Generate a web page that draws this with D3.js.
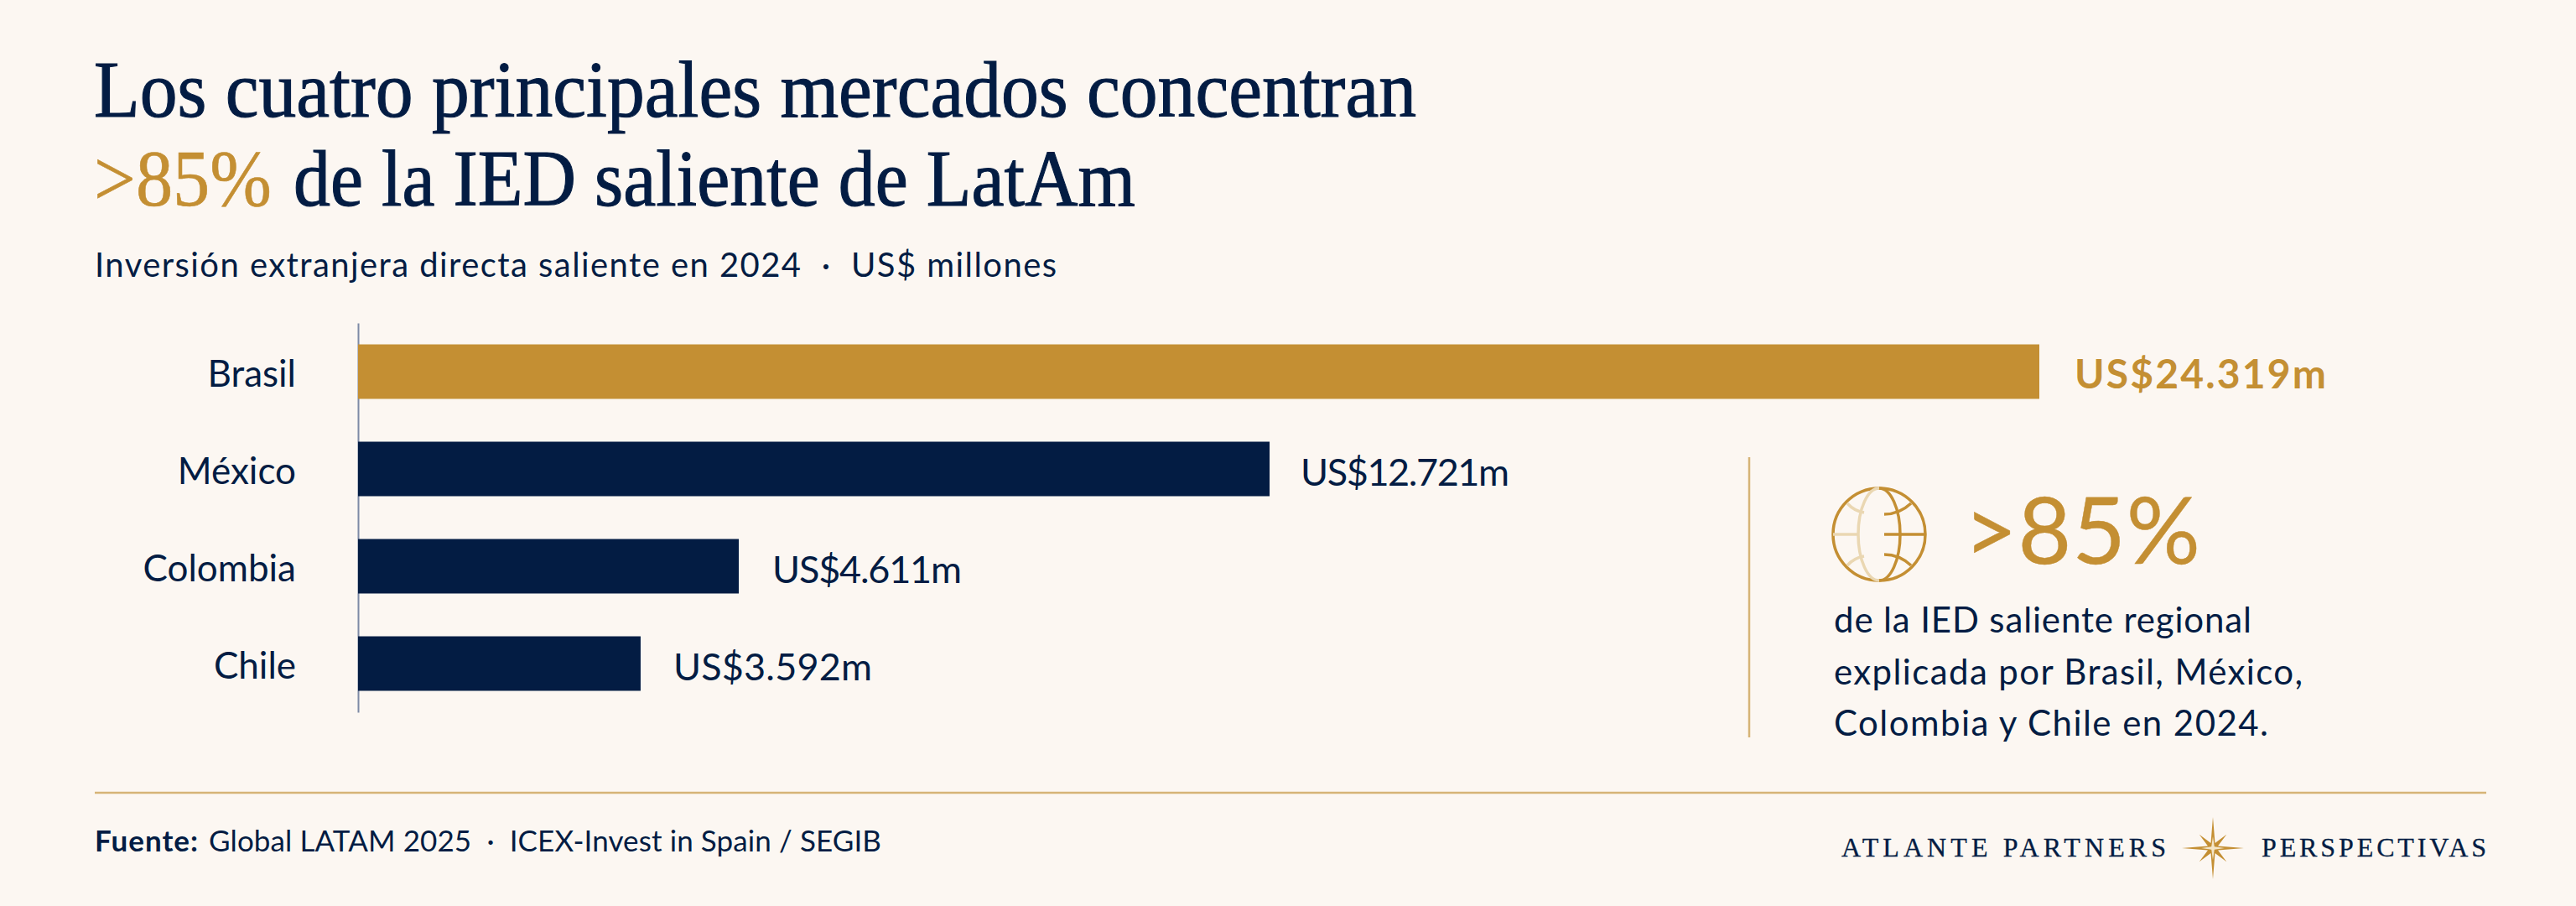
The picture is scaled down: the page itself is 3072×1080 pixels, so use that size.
<!DOCTYPE html>
<html lang="es">
<head>
<meta charset="utf-8">
<title>IED saliente de LatAm</title>
<script src="https://cdn.jsdelivr.net/npm/d3@7"></script>
<style>
  html, body { margin: 0; padding: 0; background: #fcf7f2; }
  svg { display: block; }
  text { font-family: Lato, "Noto Sans", sans-serif; fill: #031c43; }
  .serif { font-family: "Liberation Serif", serif; }
</style>
</head>
<body>
<script>
const countries = ["Brasil", "México", "Colombia", "Chile"];
// bar lengths as drawn in the picture, on the Brasil bar's scale. The drawn bars
// are not quite proportional to the printed amounts, so those are kept apart.
const barLengths = [24319, 13185, 5507, 4087];
const valueLabels = ["US$24.319m", "US$12.721m", "US$4.611m", "US$3.592m"];
const labelWidths = [300, 249, 226, 237];
const labelGaps = [42, 37, 40, 39];
const panelLines = ["de la IED saliente regional", "explicada por Brasil, México,", "Colombia y Chile en 2024."];
const panelWidths = [498, 559, 518];

const navy = "#031c43", gold = "#c48f33", paleGold = "#d6b477";
const width = 3072, height = 1080;
const margin = {left: 113, right: 107};

const svg = d3.select("body").append("svg")
    .attr("width", width)
    .attr("height", height)
    .attr("viewBox", [0, 0, width, height]);

svg.append("rect")
    .attr("width", width)
    .attr("height", height)
    .attr("fill", "#fcf7f2");

const label = (g, txt, x, y, size, w) => g.append("text")
    .attr("x", x)
    .attr("y", y)
    .attr("font-size", size)
    .attr("textLength", w)
    .attr("lengthAdjust", "spacing")
    .text(txt);

// heading
label(svg, "Los cuatro principales mercados concentran", 112, 139, 96, 1577)
    .attr("class", "serif").attr("lengthAdjust", "spacingAndGlyphs").attr("stroke", navy).attr("stroke-width", 1.1);
label(svg, ">85%", 112, 245, 96, 212)
    .attr("class", "serif").attr("lengthAdjust", "spacingAndGlyphs").attr("stroke", gold).attr("stroke-width", 0.6).style("fill", gold);
label(svg, "de la IED saliente de LatAm", 350, 245, 96, 1004)
    .attr("class", "serif").attr("lengthAdjust", "spacingAndGlyphs").attr("stroke", navy).attr("stroke-width", 1.1);
label(svg, "Inversión extranjera directa saliente en 2024  ·  US$ millones", 113, 330, 40, 1147)
    .attr("xml:space", "preserve");

// bars
const x = d3.scaleLinear().domain([0, d3.max(barLengths)]).range([427, 2432]);
const y = d3.scaleBand().domain(countries).range([385, 849]).paddingInner(0.44).paddingOuter(0.22);

const axis = svg.append("g")
    .attr("transform", `translate(${x(0)},0)`)
    .call(d3.axisLeft(y).tickSize(0).tickPadding(74));
axis.select(".domain").attr("stroke", "#7d8aa5").attr("stroke-width", 2);
axis.selectAll("text")
    .attr("font-size", 44)
    .attr("dy", "0.41em")
    .style("font-family", "Lato, sans-serif")
    .style("fill", navy);

svg.append("g")
  .selectAll("rect")
  .data(countries)
  .join("rect")
    .attr("x", x(0))
    .attr("y", d => y(d))
    .attr("width", (d, i) => x(barLengths[i]) - x(0))
    .attr("height", y.bandwidth())
    .attr("fill", (d, i) => i == 0 ? gold : navy);

svg.append("g")
  .selectAll("text")
  .data(countries)
  .join("text")
    .attr("x", (d, i) => x(barLengths[i]) + labelGaps[i])
    .attr("y", d => y(d) + y.bandwidth() / 2 + 20)
    .attr("font-size", (d, i) => i == 0 ? 48 : 45)
    .attr("font-weight", (d, i) => i == 0 ? 700 : 400)
    .attr("textLength", (d, i) => labelWidths[i])
    .style("fill", (d, i) => i == 0 ? gold : navy)
    .text((d, i) => valueLabels[i]);

// side panel
svg.append("line")
    .attr("x1", 2086).attr("x2", 2086)
    .attr("y1", 545).attr("y2", 879)
    .attr("stroke", paleGold)
    .attr("stroke-width", 2.5);

const globe = svg.append("g")
    .attr("transform", "translate(2241,637)")
    .attr("fill", "none")
    .attr("stroke", gold)
    .attr("stroke-width", 3.5);
globe.append("circle").attr("r", 55);
globe.append("path").attr("d", "M0,-55A25,55 0 0 1 0,55");
globe.append("path").attr("d", "M6,0H55M6,-24Q24,-24 38,-37M6,24Q24,24 38,37");
globe.append("path").attr("d", "M0,-55A25,55 0 0 0 0,55M-55,0H-24M-38,-37Q-30,-28 -18,-26M-38,37Q-30,28 -18,26")
    .attr("stroke", "#ead7b2");

label(svg, ">85%", 2342, 672, 110, 282)
    .attr("stroke", gold)
    .attr("stroke-width", 0.4)
    .style("fill", gold);

svg.append("g")
  .selectAll("text")
  .data(panelLines)
  .join("text")
    .attr("x", 2187)
    .attr("y", (d, i) => 754 + i * 61.5)
    .attr("font-size", 42)
    .attr("textLength", (d, i) => panelWidths[i])
    .text(d => d);

// footer
svg.append("line")
    .attr("x1", margin.left).attr("x2", width - margin.right)
    .attr("y1", 945).attr("y2", 945)
    .attr("stroke", paleGold)
    .attr("stroke-width", 2.5);

label(svg, "Fuente:", 113, 1015, 35, 123).attr("font-weight", 700);
label(svg, "Global LATAM 2025  ·  ICEX-Invest in Spain / SEGIB", 249, 1015, 35, 802)
    .attr("xml:space", "preserve");

label(svg, "ATLANTE PARTNERS", 2196, 1021, 32, 387).attr("class", "serif").attr("stroke", navy).attr("stroke-width", 0.3);
label(svg, "PERSPECTIVAS", 2697, 1021, 32, 268).attr("class", "serif").attr("stroke", navy).attr("stroke-width", 0.3);

// compass star
const star = d3.lineRadial().curve(d3.curveLinearClosed);
const spikes = d3.range(16).map(i => {
  const r = i % 4 == 0 ? 37 : i % 4 == 2 ? 23 : 6.5;
  return [i * Math.PI / 8, r];
});
const logo = svg.append("g").attr("transform", "translate(2639,1011)");
logo.append("path").attr("d", star(spikes)).attr("fill", gold);
logo.append("path")
    .attr("d", star(d3.range(8).map(i => [i * Math.PI / 4, i % 2 ? 2.5 : 14])))
    .attr("fill", "#f4e6c8");
</script>
</body>
</html>
